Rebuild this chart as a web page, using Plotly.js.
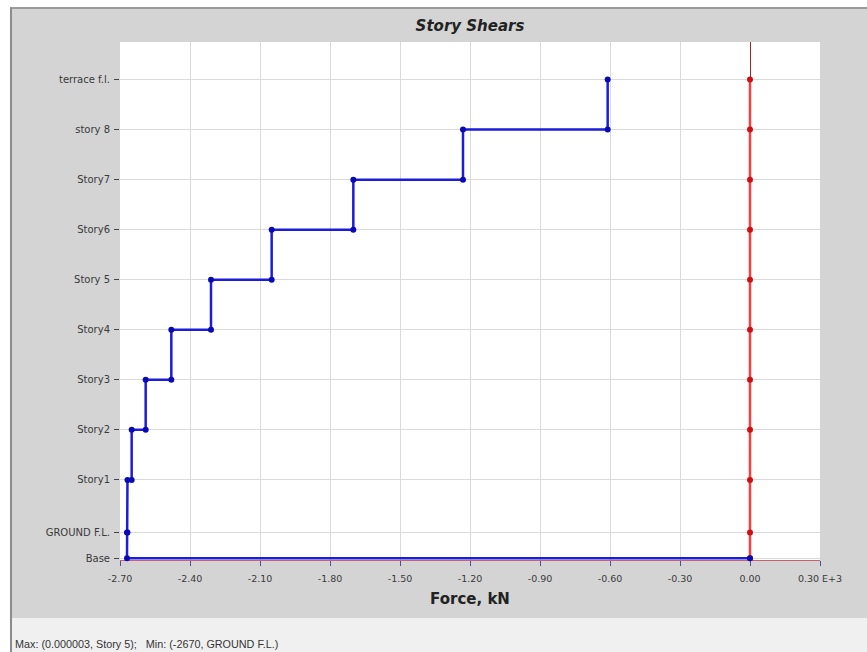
<!DOCTYPE html>
<html>
<head>
<meta charset="utf-8">
<script src="https://cdn.plot.ly/plotly-3.0.1.min.js"></script>
<style>
  html, body { margin:0; padding:0; background:#ffffff; width:867px; height:652px; overflow:hidden; }
  #frame { position:absolute; left:10px; top:7px; width:855px; height:643px;
           border-left:2px solid #8c8c8c; border-top:2px solid #9a9a9a; background:#d4d4d4; }
  #chart { position:absolute; left:0; top:0; width:855px; height:609px; }
  #status { position:absolute; left:0; top:609px; width:855px; height:36px; background:#f0f0f0;
            font-family:"Liberation Sans", Arial, sans-serif; font-size:10.8px; color:#333;
            line-height:16px; padding-top:18px; padding-left:3px; box-sizing:border-box; }
</style>
</head>
<body>
<div id="frame">
  <div id="chart"></div>
  <div id="status">Max: (0.000003, Story 5);&nbsp;&nbsp; Min: (-2670, GROUND F.L.)</div>
</div>
<script>
// Levels, bottom to top
const levels = ["Base", "GROUND F.L.", "Story1", "Story2", "Story3", "Story4", "Story 5", "Story6", "Story7", "story 8", "terrace f.l."];
const elevations = [0, 1.55, 4.7, 7.7, 10.7, 13.7, 16.7, 19.7, 22.7, 25.7, 28.7];
// Story shear (E+3 kN) of the story whose top is each level (index 1..10)
const shearX = [0, -2.670, -2.668, -2.650, -2.590, -2.480, -2.310, -2.050, -1.700, -1.230, -0.610];
// Other direction (practically zero at every level)
const shearY = [0, 0, 0, 0, 0, 0, 0.000003, 0, 0, 0, 0];
const xTickVals = [-2.70, -2.40, -2.10, -1.80, -1.50, -1.20, -0.90, -0.60, -0.30, 0.00, 0.30];
const xTickText = ["-2.70", "-2.40", "-2.10", "-1.80", "-1.50", "-1.20", "-0.90", "-0.60", "-0.30", "0.00", "0.30 E+3"];

// Build step line for X shears: top to bottom
const bx = [], by = [];
for (let i = levels.length - 1; i >= 1; i--) {
  bx.push(shearX[i]); by.push(elevations[i]);
  bx.push(shearX[i]); by.push(elevations[i - 1]);
}
bx.push(shearX[0]); by.push(elevations[0]);

const traces = [
  {
    x: shearY, y: elevations, type: "scatter", mode: "lines+markers",
    line: { color: "#ff3d3d", width: 2.5 },
    marker: { color: "#d01010", size: 6 },
    hoverinfo: "skip", showlegend: false, cliponaxis: false
  },
  {
    x: bx, y: by, type: "scatter", mode: "lines+markers",
    line: { color: "#1c1cdc", width: 2.5 },
    marker: { color: "#0a0ab4", size: 6 },
    hoverinfo: "skip", showlegend: false, cliponaxis: false
  }
];

const layout = {
  width: 855, height: 609,
  paper_bgcolor: "#d4d4d4", plot_bgcolor: "#ffffff",
  margin: { l: 108, r: 47, t: 33, b: 58 },
  font: { family: "DejaVu Sans, Verdana, sans-serif", color: "#3a3a3a", size: 10 },
  title: {
    text: "<b><i>Story Shears</i></b>",
    font: { family: "DejaVu Sans, Verdana, sans-serif", size: 15, color: "#222222" },
    x: 0.5, xref: "paper", xanchor: "center", y: 0.972, yref: "container", yanchor: "middle"
  },
  xaxis: {
    range: [-2.70, 0.30], tickmode: "array", tickvals: xTickVals, ticktext: xTickText,
    layer: "below traces",
    showgrid: true, gridcolor: "#dadada", gridwidth: 1,
    zeroline: true, zerolinecolor: "#b02020", zerolinewidth: 1,
    showline: true, linecolor: "#c86070", linewidth: 1,
    ticks: "outside", ticklen: 5, tickcolor: "#5050a0", ticklabelstandoff: 5,
    tickfont: { size: 9.5, color: "#3a3a3a" },
    title: { text: "<b>Force, kN</b>", font: { size: 15, color: "#222222" }, standoff: 10 }
  },
  yaxis: {
    range: [-0.1, 30.95], tickmode: "array", tickvals: elevations, ticktext: levels,
    layer: "below traces",
    showgrid: true, gridcolor: "#dadada", gridwidth: 1,
    zeroline: false, showline: false,
    ticks: "outside", ticklen: 5, tickcolor: "#444444", ticklabelstandoff: 2,
    tickfont: { size: 10, color: "#3a3a3a" }
  }
};

Plotly.newPlot("chart", traces, layout, { displayModeBar: false, staticPlot: true });
</script>
</body>
</html>
